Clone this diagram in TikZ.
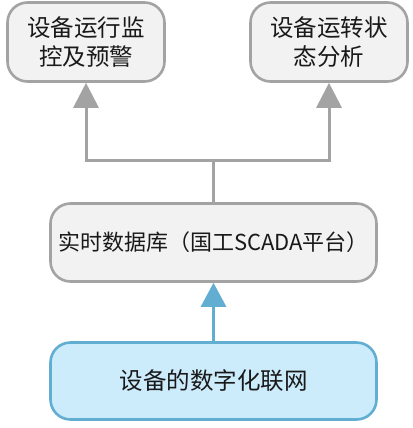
\documentclass[tikz,border=0pt]{standalone}
\usepackage{fontspec}
\newfontfamily\cjk{Noto Sans CJK SC}
\usetikzlibrary{arrows.meta}
\definecolor{grayline}{HTML}{A3A3A3}
\definecolor{grayfill}{HTML}{F2F2F2}
\definecolor{blueline}{HTML}{62AED3}
\definecolor{bluefill}{HTML}{CCEBFB}
\tikzset{
  graybox/.style={draw=grayline, fill=grayfill, line width=2.6pt, rounded corners=20pt,
    align=center, inner sep=0pt, font=\cjk\fontsize{23.5}{28.5}\selectfont, text=black!90},
  bluebox/.style={draw=blueline, fill=bluefill, line width=2.6pt, rounded corners=20pt,
    align=center, inner sep=0pt, font=\cjk\fontsize{23.5}{28.5}\selectfont, text=black!90},
  grayarrow/.style={draw=grayline, line width=3pt, -{Triangle[width=25pt,length=25pt]}},
  grayconn/.style={draw=grayline, line width=3pt},
  bluearrow/.style={draw=blueline, line width=3pt, -{Triangle[width=25pt,length=24pt]}}
}
\begin{document}
\begin{tikzpicture}[x=1pt,y=-1pt]
\useasboundingbox (0,0) rectangle (412,428);
\node[graybox, minimum width=157pt, minimum height=79pt] (tl) at (86,42) {设备运行监\\控及预警};
\node[graybox, minimum width=157pt, minimum height=79pt] (tr) at (329,42) {设备运转状\\态分析};
\node[graybox, minimum width=326pt, minimum height=78pt, font=\cjk\fontsize{22}{28}\selectfont] (mid) at (213.5,242.5) {实时数据库（国工SCADA平台）};
\node[bluebox, minimum width=326pt, minimum height=77pt] (bot) at (213.5,381) {设备的数字化联网};
\coordinate (j) at (mid.north |- 0,160);
\draw[grayconn] (mid.north) -- (j);
\draw[grayarrow] (j) -| (tl.south);
\draw[grayarrow] (j) -| (tr.south);
\draw[bluearrow] (bot.north) -- (mid.south);
\end{tikzpicture}
\end{document}
